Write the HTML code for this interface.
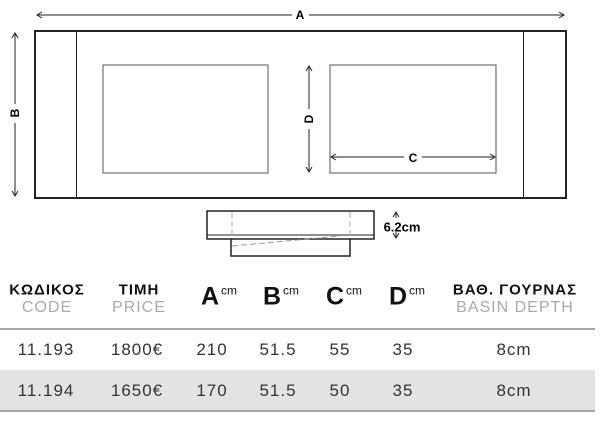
<!DOCTYPE html>
<html><head><meta charset="utf-8"><style>
body{margin:0;width:603px;height:438px;background:#fff;position:relative;overflow:hidden;font-family:"Liberation Sans",sans-serif}
.t{position:absolute;transform:translate(-50%,-50%);white-space:nowrap}
.h{font-weight:bold;font-size:15px;color:#111;letter-spacing:1px}
.g{font-size:16px;color:#aaa;letter-spacing:1px}
.d{font-size:17px;color:#333;letter-spacing:1px}
.big{font-weight:bold;font-size:25px;color:#111}
.big sup{font-weight:normal;font-size:12px;vertical-align:10px;margin-left:2px}
.L{font-weight:bold;font-size:12px}
</style></head><body>
<svg width="603" height="438" style="position:absolute;left:0;top:0">
<defs><marker id="a" markerWidth="8" markerHeight="8" refX="6" refY="4" orient="auto-start-reverse"><path d="M1,1 L6,4 L1,7" fill="none" stroke="#222" stroke-width="1"/></marker></defs>
<rect x="0" y="370" width="595" height="40" fill="#e3e3e3"/>
<g stroke="#222" fill="none">
<rect x="35" y="31" width="531" height="167" stroke-width="2"/>
<line x1="76.5" y1="31" x2="76.5" y2="198"/>
<line x1="523.5" y1="31" x2="523.5" y2="198"/>
<rect x="103" y="65" width="165" height="108" stroke="#555"/>
<rect x="330" y="65" width="166" height="108" stroke="#555"/>
<line x1="37" y1="15" x2="292" y2="15" marker-start="url(#a)"/>
<line x1="309" y1="15" x2="564" y2="15" marker-end="url(#a)"/>
<line x1="15" y1="33" x2="15" y2="104" marker-start="url(#a)"/>
<line x1="15" y1="123" x2="15" y2="196" marker-end="url(#a)"/>
<line x1="309" y1="66" x2="309" y2="109" marker-start="url(#a)"/>
<line x1="309" y1="129" x2="309" y2="172" marker-end="url(#a)"/>
<line x1="331" y1="157" x2="404" y2="157" marker-start="url(#a)"/>
<line x1="422" y1="157" x2="495" y2="157" marker-end="url(#a)"/>
<rect x="207" y="211" width="167" height="28" stroke-width="1.5"/>
<line x1="207" y1="235" x2="374" y2="235"/>
<polyline points="231,239 231,256 350,256 350,239" stroke-width="1.5"/>
<line x1="232" y1="212" x2="232" y2="238" stroke="#aaa" stroke-dasharray="6,3"/>
<line x1="350" y1="212" x2="350" y2="238" stroke="#aaa" stroke-dasharray="6,3"/>
<line x1="232" y1="246" x2="340" y2="236" stroke="#999" stroke-dasharray="6,3"/>
<line x1="396" y1="212" x2="396" y2="218" marker-start="url(#a)"/>
<line x1="396" y1="232" x2="396" y2="238" marker-end="url(#a)"/>
<line x1="0" y1="329" x2="595" y2="329" stroke="#888" stroke-width="1.5"/>
<line x1="0" y1="411" x2="595" y2="411" stroke="#888" stroke-width="1.5"/>
</g>
</svg>
<div class="t L" style="left:300px;top:15px">A</div>
<div class="t L" style="left:15px;top:113px;transform:translate(-50%,-50%) rotate(-90deg)">B</div>
<div class="t L" style="left:309px;top:119px;transform:translate(-50%,-50%) rotate(-90deg)">D</div>
<div class="t L" style="left:413px;top:158px">C</div>
<div class="t" style="left:402px;top:227px;font-weight:bold;font-size:13px">6.2cm</div>
<div class="t h" style="left:47px;top:290px">ΚΩΔΙΚΟΣ</div>
<div class="t g" style="left:47px;top:308px">CODE</div>
<div class="t h" style="left:139px;top:290px">ΤΙΜΗ</div>
<div class="t g" style="left:139px;top:308px">PRICE</div>
<div class="t big" style="left:219px;top:297px">A<sup>cm</sup></div>
<div class="t big" style="left:281px;top:297px">B<sup>cm</sup></div>
<div class="t big" style="left:344px;top:297px">C<sup>cm</sup></div>
<div class="t big" style="left:407px;top:297px">D<sup>cm</sup></div>
<div class="t h" style="left:515px;top:290px">ΒΑΘ. ΓΟΥΡΝΑΣ</div>
<div class="t g" style="left:515px;top:308px">BASIN DEPTH</div>
<div class="t d" style="left:46px;top:350px">11.193</div>
<div class="t d" style="left:137px;top:350px">1800€</div>
<div class="t d" style="left:212px;top:350px">210</div>
<div class="t d" style="left:278px;top:350px">51.5</div>
<div class="t d" style="left:340px;top:350px">55</div>
<div class="t d" style="left:403px;top:350px">35</div>
<div class="t d" style="left:514px;top:350px">8cm</div>
<div class="t d" style="left:46px;top:391px">11.194</div>
<div class="t d" style="left:137px;top:391px">1650€</div>
<div class="t d" style="left:212px;top:391px">170</div>
<div class="t d" style="left:278px;top:391px">51.5</div>
<div class="t d" style="left:340px;top:391px">50</div>
<div class="t d" style="left:403px;top:391px">35</div>
<div class="t d" style="left:514px;top:391px">8cm</div>
</body></html>
